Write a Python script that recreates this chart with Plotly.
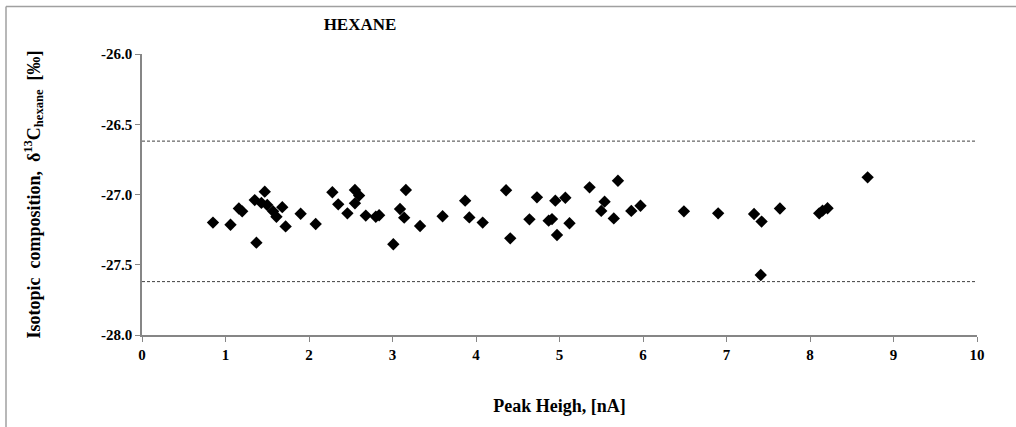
import plotly.graph_objects as go

peak_height = [0.85, 1.06, 1.16, 1.20, 1.37, 1.35, 1.43, 1.47, 1.50, 1.57, 1.61, 1.68, 1.72, 1.90, 2.08,
               2.28, 2.35, 2.46, 2.55, 2.60, 2.55, 2.68, 2.80, 2.84, 3.01, 3.09, 3.14, 3.16, 3.33, 3.60,
               3.87, 3.92, 4.08, 4.36, 4.41, 4.64, 4.73, 4.87, 4.91, 4.95, 4.97, 5.07, 5.12, 5.36, 5.50,
               5.54, 5.70, 5.65, 5.86, 5.97, 6.49, 6.90, 7.33, 7.42, 7.41, 7.64, 8.11, 8.15, 8.21, 8.69]
delta13c = [-27.20, -27.215, -27.10, -27.12, -27.343, -27.04, -27.06, -26.98, -27.075, -27.12, -27.158,
            -27.09, -27.227, -27.137, -27.21, -26.984, -27.07, -27.134, -26.968, -27.008, -27.063, -27.15,
            -27.158, -27.148, -27.354, -27.103, -27.165, -26.968, -27.224, -27.155, -27.044, -27.163,
            -27.20, -26.97, -27.312, -27.177, -27.02, -27.186, -27.175, -27.044, -27.288, -27.023, -27.205,
            -26.949, -27.117, -27.051, -26.902, -27.17, -27.117, -27.08, -27.12, -27.134, -27.139, -27.193,
            -27.573, -27.10, -27.134, -27.115, -27.098, -26.878]
limits = [-26.62, -27.62]
x_ticks = [0, 1, 2, 3, 4, 5, 6, 7, 8, 9, 10]
x_tick_labels = ["0", "1", "2", "3", "4", "5", "6", "7", "8", "9", "10"]
y_ticks = [-28.0, -27.5, -27.0, -26.5, -26.0]
y_tick_labels = ["-28.0", "-27.5", "-27.0", "-26.5", "-26.0"]
x_range = [0, 10]
y_range = [-28.0, -26.0]

font = "Liberation Serif, Times New Roman, serif"
fig = go.Figure()
for lim in limits:
    fig.add_trace(go.Scatter(x=x_range, y=[lim, lim], mode="lines",
                             line=dict(color="#404040", width=1, dash="3px,2px"),
                             hoverinfo="skip", showlegend=False))
fig.add_trace(go.Scatter(x=peak_height, y=delta13c, mode="markers",
                         marker=dict(symbol="diamond", size=9.5, color="black"),
                         showlegend=False))

fig.update_layout(
    width=1016, height=427,
    margin=dict(l=142, r=39, t=54, b=92),
    paper_bgcolor="white", plot_bgcolor="white",
    font=dict(family=font, color="black"),
    title=dict(text="<b>HEXANE</b>", x=360/1016, xanchor="center", y=1-24/427, yanchor="middle",
               font=dict(family=font, size=17, color="black")),
    xaxis=dict(range=x_range, tickmode="array", tickvals=x_ticks,
               ticktext=["<b>%s</b>" % t for t in x_tick_labels],
               showgrid=False, zeroline=False,
               showline=True, linecolor="#868686", linewidth=1.5,
               ticks="outside", ticklen=5, tickcolor="#868686",
               tickfont=dict(family=font, size=15, color="black"),
               title=dict(text="<b>Peak Heigh, [nA]</b>", standoff=38,
                          font=dict(family=font, size=18, color="black"))),
    yaxis=dict(range=y_range, tickmode="array", tickvals=y_ticks,
               ticktext=["<b>%s</b>" % t for t in y_tick_labels],
               showgrid=False, zeroline=False,
               showline=True, linecolor="#868686", linewidth=1.5,
               ticks="outside", ticklen=5, tickcolor="#868686",
               tickfont=dict(family=font, size=15, color="black"),
               title=dict(text="<b>Isotopic  composition,  δ<sup>13</sup>C<sub>hexane</sub>  [‰]</b>",
                          standoff=56, font=dict(family=font, size=18, color="black"))),
    shapes=[
        dict(type="line", xref="paper", yref="paper", x0=(6-142)/835, x1=(6-142)/835,
             y0=1+(54-6.5)/281, y1=-1, line=dict(color="#a0a0a0", width=1.5)),
        dict(type="line", xref="paper", yref="paper", x0=(6-142)/835, x1=2,
             y0=1+(54-6.5)/281, y1=1+(54-6.5)/281, line=dict(color="#a0a0a0", width=1.5)),
    ],
)
fig.write_html("out.html")
